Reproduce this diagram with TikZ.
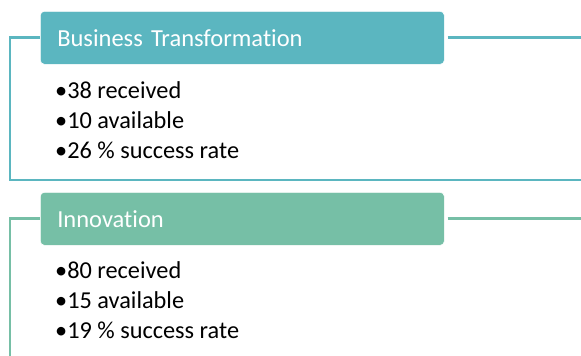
\documentclass[tikz,border=0pt]{standalone}
\usepackage{fontspec}
\setmainfont{Carlito}[Ligatures={NoCommon,TeX}]
\usetikzlibrary{positioning}
\definecolor{teal1}{HTML}{5BB6C0}
\definecolor{green1}{HTML}{76BFA6}
\tikzset{
  headbox/.style={rounded corners=4pt, draw=white, line width=0.6pt, minimum width=404pt, minimum height=53pt, inner xsep=17pt, inner ysep=0pt, text width=370pt, align=left, text=white, font=\fontsize{24.5}{28}\selectfont},
  itemtext/.style={anchor=west, inner sep=0pt, font=\fontsize{24.3}{28}\selectfont},
  frame/.style={line width=2.2pt}
}
\begin{document}
\begin{tikzpicture}[x=1pt, y=-1pt]
			%%%%% START %%%%%
			\useasboundingbox (0, 0) rectangle (581, 356);
			
			% first group
			\node[headbox, fill=teal1, anchor=north west] (bt) at (40, 11) {Business Transformation};
			\coordinate (btl) at (10, 37.5);
			\coordinate (btr) at (581, 37.5);
			\coordinate (btbl) at (10, 180);
			\coordinate (btbr) at (581, 180);
			\draw[frame, teal1] (bt.west |- btl) -- (btl) -- (btbl) -- (btbr);
			\draw[frame, teal1] ([xshift=3pt]bt.east |- btr) -- (btr);
			
			\node[itemtext] (bt1) at (55, 90) {•38 received};
			\node[itemtext] (bt2) at (55, 120) {•10 available};
			\node[itemtext] (bt3) at (55, 150) {•26 \% success rate};
			
			% second group
			\node[headbox, fill=green1, anchor=north west] (in) at (40, 192) {Innovation};
			\coordinate (inl) at (10, 218.5);
			\coordinate (inr) at (581, 218.5);
			\coordinate (inb) at (10, 356);
			\draw[frame, green1] (in.west |- inl) -- (inl) -- (inb);
			\draw[frame, green1] ([xshift=3pt]in.east |- inr) -- (inr);
			
			\node[itemtext] (in1) at (55, 270) {•80 received};
			\node[itemtext] (in2) at (55, 300) {•15 available};
			\node[itemtext] (in3) at (55, 330) {•19 \% success rate};
			
			%%%%% END %%%%%
\end{tikzpicture}
\end{document}
